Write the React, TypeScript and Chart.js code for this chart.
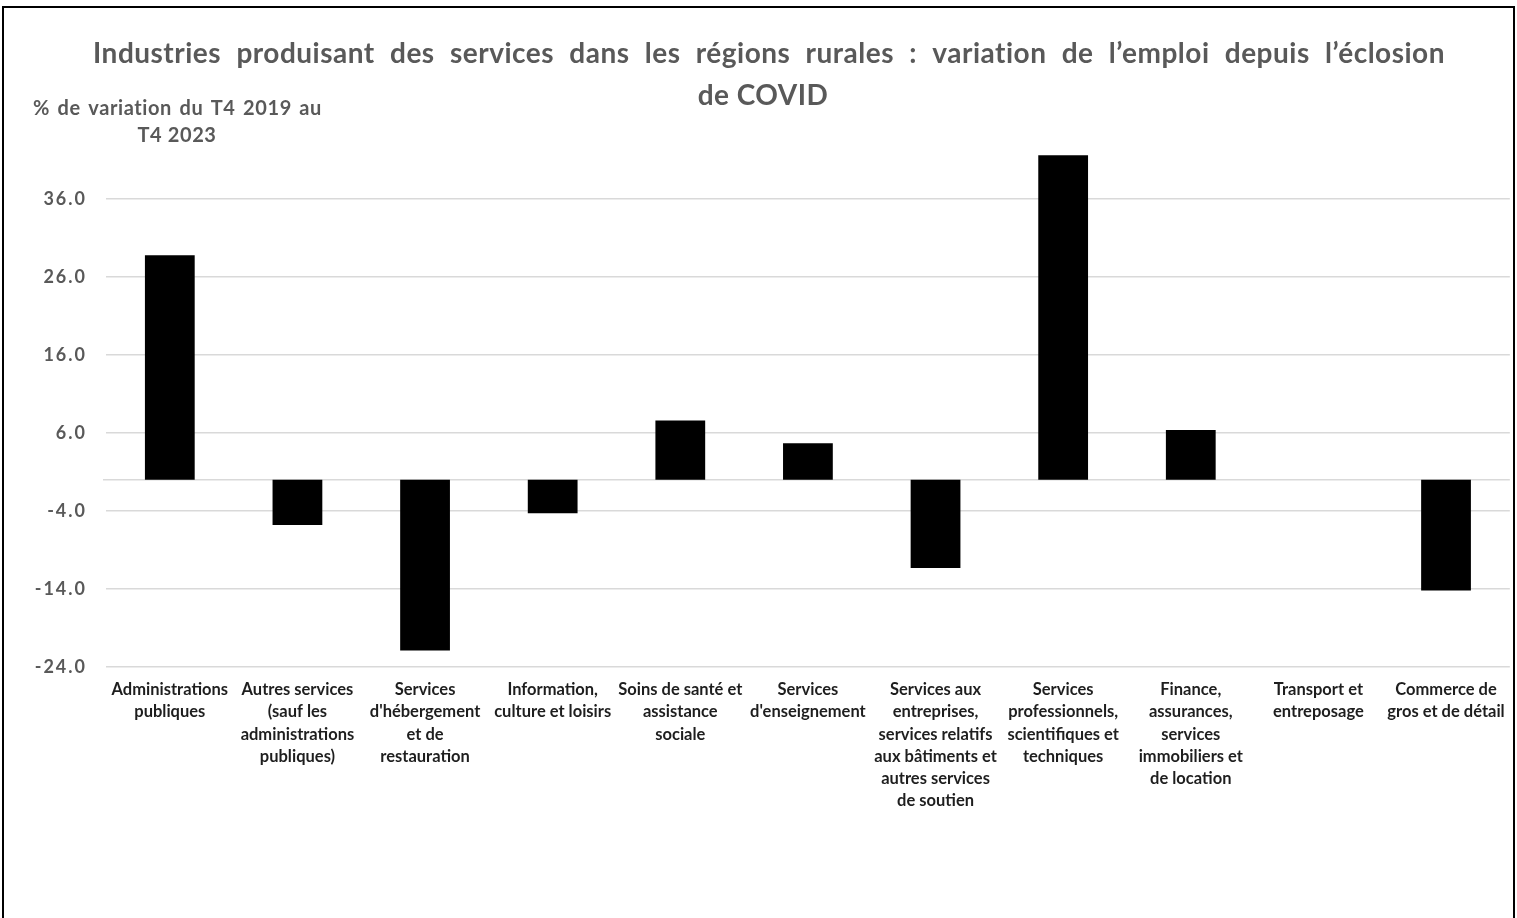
import React, { useEffect, useRef } from "react";
import { Chart, registerables } from "chart.js";

Chart.register(...registerables);

const titleLines = [
  "Industries produisant des services dans les régions rurales : variation de l’emploi depuis l’éclosion",
  "de COVID",
];
const axisTitleLines = ["% de variation du T4 2019 au", "T4 2023"];

const categories: string[][] = [
  ["Administrations", "publiques"],
  ["Autres services", "(sauf les", "administrations", "publiques)"],
  ["Services", "d'hébergement", "et de", "restauration"],
  ["Information,", "culture et loisirs"],
  ["Soins de santé et", "assistance", "sociale"],
  ["Services", "d'enseignement"],
  ["Services aux", "entreprises,", "services relatifs", "aux bâtiments et", "autres services", "de soutien"],
  ["Services", "professionnels,", "scientifiques et", "techniques"],
  ["Finance,", "assurances,", "services", "immobiliers et", "de location"],
  ["Transport et", "entreposage"],
  ["Commerce de", "gros et de détail"],
];

const values: number[] = [28.8, -5.8, -21.9, -4.3, 7.6, 4.7, -11.3, 41.6, 6.4, 0, -14.2];

const yTicks: number[] = [-24, -14, -4, 6, 16, 26, 36];
const yMin = -24;
const yMax = 46;

const FONT = "Lato, 'Open Sans', sans-serif";
const GRAY = "#595959";

function drawJustified(ctx: any, text: string, left: number, right: number, y: number) {
  const words = text.split(" ");
  const widths = words.map((w) => ctx.measureText(w).width);
  const total = widths.reduce((a, b) => a + b, 0);
  const gap = (right - left - total) / (words.length - 1);
  let x = left;
  ctx.textAlign = "left";
  words.forEach((w, i) => {
    ctx.fillText(w, x, y);
    x += widths[i] + gap;
  });
}

const decorPlugin = {
  id: "decor",
  beforeDraw(chart: any) {
    const ctx = chart.ctx;
    ctx.save();
    ctx.fillStyle = "#ffffff";
    ctx.fillRect(0, 0, chart.width, chart.height);
    ctx.strokeStyle = "#000000";
    ctx.lineWidth = 2;
    ctx.strokeRect(3, 7, 1511, 1000);
    ctx.restore();
  },
  beforeDatasetsDraw(chart: any) {
    const ctx = chart.ctx;
    const y = chart.scales.y.getPixelForValue(0);
    const a = chart.chartArea;
    ctx.save();
    ctx.strokeStyle = "#d9d9d9";
    ctx.lineWidth = 1.5;
    ctx.beginPath();
    ctx.moveTo(a.left - 3, y);
    ctx.lineTo(a.right, y);
    ctx.stroke();
    ctx.restore();
  },
  afterDraw(chart: any) {
    const ctx = chart.ctx;
    const ys = chart.scales.y;
    ctx.save();
    ctx.fillStyle = GRAY;
    ctx.textBaseline = "middle";
    // main title
    ctx.font = `bold 28px ${FONT}`;
    try { ctx.letterSpacing = "0.5px"; } catch (e) {}
    drawJustified(ctx, titleLines[0], 93, 1445, 54);
    ctx.textAlign = "center";
    ctx.fillText(titleLines[1], 763, 96);
    // axis title
    ctx.font = `bold 20px ${FONT}`;
    try { ctx.letterSpacing = "0.6px"; } catch (e) {}
    drawJustified(ctx, axisTitleLines[0], 33, 322, 109);
    ctx.textAlign = "center";
    ctx.fillText(axisTitleLines[1], 177, 136);
    // y tick labels
    ctx.font = `bold 18px ${FONT}`;
    try { ctx.letterSpacing = "2px"; } catch (e) {}
    ctx.textAlign = "right";
    yTicks.forEach((v) => {
      ctx.fillText(v.toFixed(1), 87, ys.getPixelForValue(v));
    });
    ctx.restore();
  },
};

export default function App() {
  const ref = useRef<HTMLCanvasElement>(null);
  useEffect(() => {
    if (!ref.current) return;
    const chart = new Chart(ref.current, {
      type: "bar",
      data: {
        labels: categories,
        datasets: [
          {
            data: values,
            backgroundColor: "#000000",
            borderWidth: 0,
            barPercentage: 0.39,
            categoryPercentage: 1,
          },
        ],
      },
      options: {
        responsive: false,
        animation: false,
        devicePixelRatio: 1,
        layout: { padding: { top: 121, left: 0, right: 7, bottom: 0 } },
        plugins: {
          legend: { display: false },
          title: { display: false },
          tooltip: { enabled: false },
        },
        scales: {
          x: {
            grid: { display: false, drawTicks: false },
            border: { display: false },
            ticks: {
              color: "#1e1e1e",
              font: { family: FONT, size: 16.5, weight: "bold", lineHeight: 1.34 },
              padding: 12,
              maxRotation: 0,
              autoSkip: false,
            },
            afterFit(scale: any) {
              scale.height = 251;
            },
          },
          y: {
            min: yMin,
            max: yMax,
            afterBuildTicks(scale: any) {
              scale.ticks = yTicks.map((v) => ({ value: v }));
            },
            grid: { color: "#d9d9d9", lineWidth: 1.5, drawTicks: false },
            border: { display: false },
            ticks: { display: false },
            afterFit(scale: any) {
              scale.width = 106;
            },
          },
        },
      },
      plugins: [decorPlugin],
    });
    return () => chart.destroy();
  }, []);
  return (
    <div style={{ position: "absolute", left: 0, top: 0, width: 1517, height: 918 }}>
      <canvas ref={ref} width={1517} height={918} style={{ display: "block" }} />
    </div>
  );
}
